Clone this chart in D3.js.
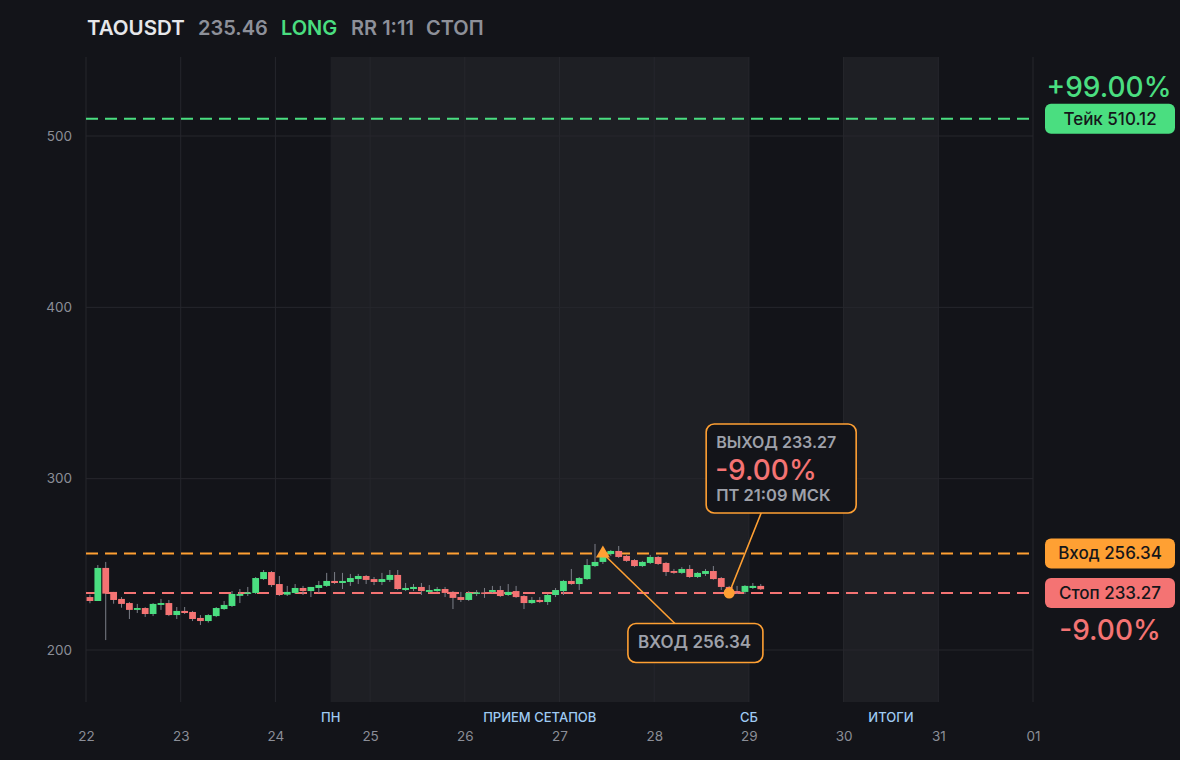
<!DOCTYPE html>
<html>
<head>
<meta charset="utf-8">
<script src="https://cdn.jsdelivr.net/npm/d3@7"></script>
<style>
  html, body { margin: 0; padding: 0; background: #131419; }
  svg { display: block; font-family: Inter, "Noto Sans", sans-serif; }
</style>
</head>
<body>
<svg width="1180" height="760"></svg>
<script>
// 2h candles from 2025-03-22 00:00 UTC
const opens  = [230.9,228.6,247.9,233.9,229.8,227.4,223.4,224.5,221.0,226.3,227.4,220.4,
                222.8,222.2,218.7,216.9,219.8,223.9,225.7,231.6,233.0,233.3,241.4,245.5,
                238.5,232.3,233.3,236.2,234.4,236.2,237.4,240.3,239.1,239.7,241.4,243.2,
                241.4,239.7,240.9,243.8,235.0,235.6,236.8,233.9,234.4,235.6,233.9,230.9,
                229.2,232.8,233.6,233.9,235.0,232.1,234.4,231.5,227.4,229.2,228.0,232.1,
                234.4,240.3,238.5,241.4,249.0,251.4,256.0,257.8,254.9,252.5,249.0,250.8,
                254.3,250.8,246.1,245.0,247.3,242.6,244.4,246.1,242.0,236.8,234.4,233.9,
                236.2,237.4];
const highs  = [232.3,249.6,251.4,233.9,230.9,228.0,226.9,225.0,227.4,229.8,229.2,225.1,
                225.1,222.8,220.4,220.9,225.1,228.6,234.4,235.6,236.8,242.6,246.7,246.1,
                243.2,237.4,238.5,237.4,236.8,240.3,245.0,245.5,245.0,244.4,244.4,243.8,
                242.6,245.0,246.7,246.7,239.1,238.5,239.1,237.9,236.8,236.8,234.4,233.9,
                234.4,235.0,236.2,237.4,237.4,238.5,237.4,232.1,230.9,230.9,232.7,236.2,
                240.9,247.3,242.6,253.1,261.9,259.0,258.4,260.7,255.5,253.1,252.0,255.5,
                254.9,251.4,247.3,248.4,249.6,245.5,247.3,249.0,242.6,237.4,237.4,237.9,
                239.1,238.5];
const lows   = [227.3,228.6,205.8,227.0,224.7,218.1,221.6,219.3,219.8,223.4,219.8,218.1,
                221.0,216.9,214.6,216.0,219.2,223.4,225.1,227.4,231.5,232.7,240.9,236.8,
                231.5,231.5,232.7,232.1,230.9,233.3,236.8,238.5,235.6,237.4,238.5,238.5,
                237.9,237.9,239.7,235.0,234.4,234.4,232.1,233.3,233.9,230.9,223.9,228.0,
                228.6,231.5,230.4,233.3,230.9,231.5,230.4,223.9,226.9,227.4,226.3,230.9,
                232.1,238.0,235.0,240.9,248.4,250.2,254.9,253.7,251.4,248.4,248.4,250.2,
                249.6,243.2,244.4,244.4,242.0,242.0,243.2,241.0,235.0,231.5,232.7,232.7,
                235.6,235.0];
const closes = [228.6,247.9,232.9,229.2,226.9,223.4,224.5,221.0,226.9,227.4,220.4,222.8,
                221.6,218.1,216.9,220.4,224.5,226.3,232.7,232.7,233.6,242.0,245.5,237.9,
                232.1,233.9,236.2,234.4,236.8,237.9,240.3,239.1,240.3,242.0,243.2,240.9,
                239.7,241.4,243.8,235.6,236.2,236.8,234.4,235.0,235.6,233.3,230.4,229.2,
                233.3,233.6,233.0,235.0,231.5,233.9,230.9,227.4,229.2,228.0,232.1,235.0,
                240.3,238.5,242.0,249.6,251.4,256.6,257.8,254.3,252.0,249.0,251.4,254.3,
                250.2,245.5,245.0,247.3,242.6,245.0,246.1,241.4,236.8,233.3,233.3,237.4,
                237.4,235.46];

const dayTicks = ["2025-03-22","2025-03-23","2025-03-24","2025-03-25","2025-03-26","2025-03-27",
                  "2025-03-28","2025-03-29","2025-03-30","2025-03-31","2025-04-01"];
const priceTicks = [200, 300, 400, 500];
const sessions = [
  { label: "ПРИЕМ СЕТАПОВ", start: "2025-03-24T14:00", end: "2025-03-29T00:00", startLabel: "ПН", endLabel: "СБ" },
  { label: "ИТОГИ", start: "2025-03-30T00:00", end: "2025-03-31T00:00" }
];
const headerTexts  = ["TAOUSDT", "235.46", "LONG", "RR 1:11", "СТОП"];
const headerColors = ["#e6e7ea", "#8d9099", "#4ade80", "#8d9099", "#8d9099"];
const takePrice = 510.12, entryPrice = 256.34, stopPrice = 233.27;
const entryIndex = 65, exitIndex = 81;
const takePct = "+99.00%", stopPct = "-9.00%";
const exitTime = "ПТ 21:09 МСК";

const GREEN = "#4ade80", RED = "#f47373", ORANGE = "#ffa033";
const svg = d3.select("svg");
const parseDay = d3.utcParse("%Y-%m-%d");
const parseTime = d3.utcParse("%Y-%m-%dT%H:%M");
const t0 = parseDay("2025-03-22");
const step = 2 * 3600 * 1000;

const candles = opens.map((o, i) => ({
  t: new Date(+t0 + i * step + step / 2),
  o: o, h: highs[i], l: lows[i], c: closes[i]
}));

const plotLeft = 86, plotRight = 1033, plotTop = 57, plotBottom = 702;
const x = d3.scaleUtc()
  .domain([parseDay(dayTicks[0]), parseDay(dayTicks[dayTicks.length - 1])])
  .range([plotLeft, plotRight]);
const y = d3.scaleLinear().domain([200, 500]).range([650, 136]);

// shaded sessions
svg.append("g").selectAll("rect").data(sessions).enter()
  .append("rect")
  .attr("x", d => x(parseTime(d.start)))
  .attr("y", plotTop)
  .attr("width", d => x(parseTime(d.end)) - x(parseTime(d.start)))
  .attr("height", plotBottom - plotTop)
  .attr("fill", "#1e1f24");

// grid
svg.append("g").selectAll("line").data(dayTicks).enter()
  .append("line")
  .attr("x1", d => x(parseDay(d))).attr("x2", d => x(parseDay(d)))
  .attr("y1", plotTop).attr("y2", plotBottom)
  .attr("stroke", "#26272d").attr("stroke-width", 1);
svg.append("g").selectAll("line").data(priceTicks).enter()
  .append("line")
  .attr("x1", plotLeft).attr("x2", plotRight)
  .attr("y1", d => y(d)).attr("y2", d => y(d))
  .attr("stroke", "#26272d").attr("stroke-width", 1);

// axes
const yAxis = svg.append("g")
  .attr("transform", `translate(${plotLeft - 14},0)`)
  .call(d3.axisLeft(y).tickValues(priceTicks).tickSize(0).tickPadding(0));
yAxis.select(".domain").remove();
yAxis.selectAll("text").attr("fill", "#8b8e97").attr("font-size", 13.5).attr("font-family", "Inter");

const xAxis = svg.append("g")
  .attr("transform", `translate(0,${plotBottom + 23})`)
  .call(d3.axisBottom(x).tickValues(dayTicks.map(parseDay)).tickFormat(d3.utcFormat("%d")).tickSize(0).tickPadding(6));
xAxis.select(".domain").remove();
xAxis.selectAll("text").attr("fill", "#8b8e97").attr("font-size", 13.5).attr("font-family", "Inter");

// session labels
const sessLabels = [];
sessions.forEach(s => {
  const a = x(parseTime(s.start)), b = x(parseTime(s.end));
  sessLabels.push({ x: (a + b) / 2, text: s.label });
  if (s.startLabel) sessLabels.push({ x: a, text: s.startLabel });
  if (s.endLabel) sessLabels.push({ x: b, text: s.endLabel });
});
svg.append("g").selectAll("text").data(sessLabels).enter()
  .append("text")
  .attr("x", d => d.x).attr("y", 722)
  .attr("text-anchor", "middle")
  .attr("font-size", 13).attr("font-weight", 500)
  .attr("fill", "#9fcbf3")
  .text(d => d.text);

// level lines
const levels = [
  { p: takePrice, color: GREEN },
  { p: entryPrice, color: ORANGE },
  { p: stopPrice, color: RED }
];
svg.append("g").selectAll("line").data(levels).enter()
  .append("line")
  .attr("x1", plotLeft).attr("x2", plotRight)
  .attr("y1", d => y(d.p)).attr("y2", d => y(d.p))
  .attr("stroke", d => d.color).attr("stroke-width", 2)
  .attr("stroke-dasharray", "12 7");

// candles
const bw = (x(new Date(+t0 + step)) - x(t0)) * 0.86;
const cg = svg.append("g").selectAll("g").data(candles).enter().append("g");
cg.append("line")
  .attr("x1", d => x(d.t)).attr("x2", d => x(d.t))
  .attr("y1", d => y(d.h)).attr("y2", d => y(d.l))
  .attr("stroke", "#7c7f88").attr("stroke-width", 1);
cg.append("rect")
  .attr("x", d => x(d.t) - bw / 2)
  .attr("width", bw)
  .attr("y", d => y(Math.max(d.o, d.c)))
  .attr("height", d => Math.max(1.5, Math.abs(y(d.o) - y(d.c))))
  .attr("fill", d => d.c >= d.o ? GREEN : RED);

// entry / exit markers and callouts
const ex = x(candles[entryIndex].t), ey = y(entryPrice);
const xx = x(candles[exitIndex].t), xy = y(stopPrice);

svg.append("line")
  .attr("x1", ex).attr("y1", ey).attr("x2", ex + 72).attr("y2", ey + 70)
  .attr("stroke", ORANGE).attr("stroke-width", 1.6);
svg.append("line")
  .attr("x1", xx).attr("y1", xy).attr("x2", xx + 32).attr("y2", xy - 80)
  .attr("stroke", ORANGE).attr("stroke-width", 1.6);

svg.append("path")
  .attr("d", d3.symbol().type(d3.symbolTriangle).size(85)())
  .attr("transform", `translate(${ex},${ey})`)
  .attr("fill", ORANGE);
svg.append("circle")
  .attr("cx", xx).attr("cy", xy).attr("r", 5.5)
  .attr("fill", ORANGE);

// exit box
svg.append("rect")
  .attr("x", xx - 23).attr("y", xy - 169)
  .attr("width", 150).attr("height", 89)
  .attr("rx", 8)
  .attr("fill", "#131419").attr("stroke", ORANGE).attr("stroke-width", 1.6);
svg.append("text")
  .attr("x", xx - 13).attr("y", xy - 145)
  .attr("font-size", 16).attr("font-weight", 600).attr("fill", "#9ea1aa")
  .text("ВЫХОД " + stopPrice.toFixed(2));
svg.append("text")
  .attr("x", xx - 14).attr("y", xy - 113)
  .attr("font-size", 28).attr("font-weight", 500).attr("fill", RED)
  .text(stopPct);
svg.append("text")
  .attr("x", xx - 13).attr("y", xy - 92)
  .attr("font-size", 16.5).attr("font-weight", 600).attr("fill", "#9ea1aa")
  .text(exitTime);

// entry box
svg.append("rect")
  .attr("x", ex + 25).attr("y", ey + 70)
  .attr("width", 135).attr("height", 39)
  .attr("rx", 8)
  .attr("fill", "#131419").attr("stroke", ORANGE).attr("stroke-width", 1.6);
svg.append("text")
  .attr("x", ex + 35).attr("y", ey + 95)
  .attr("font-size", 17).attr("font-weight", 600).attr("fill", "#9ea1aa")
  .text("ВХОД " + entryPrice.toFixed(2));

// right badges
const badges = [
  { p: takePrice, text: "Тейк " + takePrice.toFixed(2), color: GREEN },
  { p: entryPrice, text: "Вход " + entryPrice.toFixed(2), color: ORANGE },
  { p: stopPrice, text: "Стоп " + stopPrice.toFixed(2), color: RED }
];
const bg = svg.append("g").selectAll("g").data(badges).enter().append("g");
bg.append("rect")
  .attr("x", 1045).attr("y", d => y(d.p) - 15)
  .attr("width", 130).attr("height", 30).attr("rx", 6)
  .attr("fill", d => d.color);
bg.append("text")
  .attr("x", 1110).attr("y", d => y(d.p) + 6)
  .attr("text-anchor", "middle")
  .attr("font-size", 17).attr("font-weight", 500).attr("fill", "#15161a")
  .text(d => d.text);

svg.append("text")
  .attr("x", 1109).attr("y", y(takePrice) - 22)
  .attr("text-anchor", "middle")
  .attr("font-size", 28).attr("font-weight", 500).attr("fill", GREEN)
  .text(takePct);
svg.append("text")
  .attr("x", 1110).attr("y", y(stopPrice) + 47)
  .attr("text-anchor", "middle")
  .attr("font-size", 28).attr("font-weight", 500).attr("fill", RED)
  .text(stopPct);

// header
const headerX = [87, 198, 281, 351, 426];
headerTexts.forEach((txt, i) => {
  svg.append("text")
    .attr("x", headerX[i]).attr("y", 35)
    .attr("font-size", i === 0 ? 20.5 : 20).attr("font-weight", 600)
    .attr("fill", headerColors[i])
    .text(txt);
});
</script>
</body>
</html>
